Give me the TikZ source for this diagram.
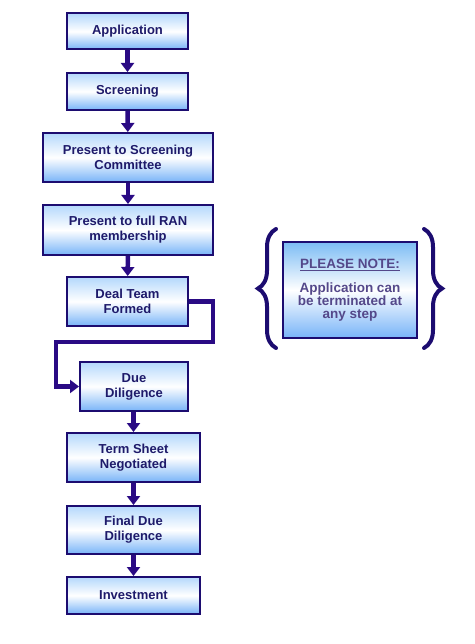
\documentclass[tikz,border=0pt]{standalone}
\usepackage{fontspec}
\setmainfont{Liberation Sans}
\usetikzlibrary{arrows.meta,decorations.pathreplacing}
\definecolor{navy}{HTML}{1C0C70}
\definecolor{arrowc}{HTML}{2A0A84}
\definecolor{txt}{HTML}{1E1A6A}
\definecolor{notetxt}{HTML}{54488A}
\definecolor{topblue}{HTML}{B4D8FC}
\definecolor{botblue}{HTML}{78B4F8}
\definecolor{notetop}{HTML}{7CBCF4}
\tikzset{
  stepbox/.style={draw=navy, line width=2pt, top color=topblue, bottom color=botblue, middle color=white,
    inner sep=0pt, align=center, text=txt, font=\fontsize{13}{15}\selectfont\bfseries},
  notebox/.style={draw=navy, line width=2pt, top color=notetop, bottom color=botblue, middle color=white,
    inner sep=0pt, align=center, text=notetxt, font=\fontsize{13.5}{13}\selectfont\bfseries},
  flow/.style={draw=arrowc, line width=4.5pt, -{Triangle[width=13pt,length=9pt]}},
  bracestyle/.style={draw=navy, line width=4pt, line cap=round, decorate,
    decoration={brace, amplitude=18pt}}
}
\begin{document}
\begin{tikzpicture}[x=1pt,y=-1pt]
\useasboundingbox (0,0) rectangle (474,644);
\node[stepbox, minimum width=121pt, minimum height=36pt] (app) at (127.5,31.5) {Application};
\node[stepbox, minimum width=121pt, minimum height=37pt] (scr) at (127.5,91.5) {Screening};
\node[stepbox, minimum width=170pt, minimum height=49pt] (psc) at (128,157.5) {Present to Screening\\Committee};
\node[stepbox, minimum width=170pt, minimum height=50pt] (ran) at (128,230) {Present to full RAN\\membership};
\node[stepbox, minimum width=121pt, minimum height=49pt] (deal) at (127.5,301.5) {Deal Team\\Formed};
\node[stepbox, minimum width=108pt, minimum height=49pt] (dd) at (134,386.5) {Due\\Diligence};
\node[stepbox, minimum width=133pt, minimum height=49pt] (term) at (133.5,457.5) {Term Sheet\\Negotiated};
\node[stepbox, minimum width=133pt, minimum height=48pt] (fdd) at (133.5,530) {Final Due\\Diligence};
\node[stepbox, minimum width=133pt, minimum height=37pt] (inv) at (133.5,595.5) {Investment};
\node[notebox, minimum width=134pt, minimum height=96pt] (note) at (350,290)
  {\underline{PLEASE NOTE:}\\[11pt]Application can\\be terminated at\\any step};

\draw[flow] (app) -- (scr);
\draw[flow] (scr) -- (psc);
\draw[flow] (psc) -- (ran);
\draw[flow] (ran) -- (deal);
\draw[flow] (deal.east) -- (213,301.5) -- (213,342) -- (56,342) -- (56,386.5) -- (dd.west);
\draw[flow] (dd.south -| term.north) -- (term);
\draw[flow] (term) -- (fdd);
\draw[flow] (fdd) -- (inv);

\coordinate (lbb) at (276,348);
\coordinate (lbt) at (276,229);
\coordinate (rbt) at (424,229);
\coordinate (rbb) at (424,348);
\draw[bracestyle] (lbb) -- (lbt);
\draw[bracestyle] (rbt) -- (rbb);
\end{tikzpicture}
\end{document}
